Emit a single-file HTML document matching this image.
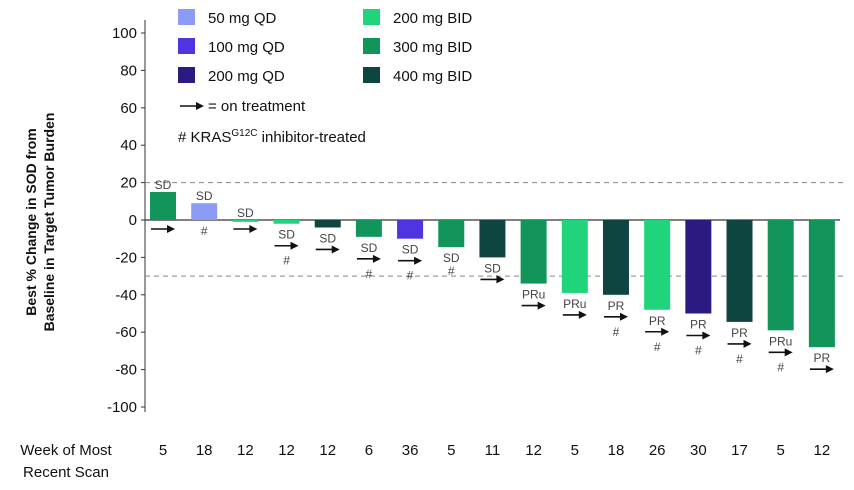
<!DOCTYPE html>
<html><head><meta charset="utf-8"><style>
body{margin:0;background:#fff;font-family:"Liberation Sans",sans-serif}
svg text{font-family:"Liberation Sans",sans-serif}
</style></head><body>
<svg width="854" height="485">
<g id="legend"></g>
<g id="axis"></g>
<g id="bars"></g>
<text transform="translate(36,222) rotate(-90)" text-anchor="middle" font-size="14" font-weight="bold" fill="#111"><tspan x="0" dy="0">Best % Change in SOD from</tspan><tspan x="0" dy="18">Baseline in Target Tumor Burden</tspan></text>
<text x="66" y="455" text-anchor="middle" font-size="15" fill="#111"><tspan x="66">Week of Most</tspan><tspan x="66" dy="22">Recent Scan</tspan></text>
</svg>
<script>
const weeks=[5,18,12,12,12,6,36,5,11,12,5,18,26,30,17,5,12];
const values=[15,9,-1,-2,-4,-9,-10,-14.5,-20,-34,-39,-40,-48,-50,-54.5,-59,-68];
const doses=[4,0,3,3,5,4,1,4,5,4,3,5,3,2,5,4,4];
const responses=["SD","SD","SD","SD","SD","SD","SD","SD","SD","PRu","PRu","PR","PR","PR","PR","PRu","PR"];
const onTreatment=[1,0,1,1,1,1,1,0,1,1,1,1,1,1,1,1,1];
const krasTreated=[0,1,0,1,0,1,1,1,0,0,0,1,1,1,1,1,0];
const doseNames=["50 mg QD","100 mg QD","200 mg QD","200 mg BID","300 mg BID","400 mg BID"];
const doseColors=["#8c9cf5","#4f35e0","#2c1a80","#1fd47a","#12955a","#0f4540"];
const yTicks=[100,80,60,40,20,0,-20,-40,-60,-80,-100];
const NS="http://www.w3.org/2000/svg";
function y(v){return 220-v*1.87;}
function x(i){return 163+i*41.18;}
function mk(t,a,p){const e=document.createElementNS(NS,t);for(const k in a)e.setAttribute(k,a[k]);(p||document.querySelector('svg')).appendChild(e);return e;}
const ax=document.getElementById('axis'),bg=document.getElementById('bars'),lg=document.getElementById('legend');
mk('line',{x1:145,x2:145,y1:20,y2:412,stroke:'#333'},ax);
yTicks.forEach(t=>{mk('line',{x1:141,x2:145,y1:y(t),y2:y(t),stroke:'#333'},ax);
const tx=mk('text',{x:137,y:y(t)+5,'text-anchor':'end','font-size':15,fill:'#111'},ax);tx.textContent=t;

});
[20,-30].forEach(v=>{const l=mk('line',{x1:145,x2:846,y1:y(v),y2:y(v),stroke:'#888','stroke-dasharray':'5,4'},ax);

});
function arrow(cx,yy,p){mk('line',{x1:cx-12,x2:cx+6,y1:yy,y2:yy,stroke:'#111','stroke-width':1.6},p);mk('path',{d:`M${cx+12} ${yy} L${cx+4} ${yy-4} L${cx+4} ${yy+4}Z`,fill:'#111'},p);}
values.forEach((v,i)=>{const cx=x(i);const top=Math.min(y(v),y(0)),h=Math.max(Math.abs(y(v)-y(0)),1);
const r=mk('rect',{x:cx-13,y:top,width:26,height:h,fill:doseColors[doses[i]]},bg);


let ly;const g=mk('g',{},bg);


let next;
if(v>=-1.5){ly=y(Math.max(v,0))-3;next=235;}else{ly=y(v)+15;next=ly+13;}
const t=mk('text',{x:cx,y:ly,'text-anchor':'middle','font-size':12,fill:'#444'},g);t.textContent=responses[i];
if(onTreatment[i]){arrow(cx,next-6,g);next+=13;}
if(krasTreated[i]){const h2=mk('text',{x:cx,y:next,'text-anchor':'middle','font-size':12,fill:'#444'},g);h2.textContent='#';}
const w=mk('text',{x:cx,y:455,'text-anchor':'middle','font-size':15,fill:'#111'});w.textContent=weeks[i];


});
mk('line',{x1:145,x2:840,y1:y(0),y2:y(0),stroke:'#333','stroke-width':1.3},ax);
doseNames.forEach((n,i)=>{const col=i<3?0:1,row=i%3;const lx=178+col*185,ly=17+row*29;
const s=mk('rect',{x:lx,y:ly-8,width:17,height:16,fill:doseColors[i]},lg);


const t=mk('text',{x:lx+30,y:ly+6,'font-size':15,fill:'#111'},lg);t.textContent=n;

});
arrow(192,106,lg);
const t1=mk('text',{x:208,y:111,'font-size':15,fill:'#111'},lg);t1.textContent='= on treatment';
const t2=mk('text',{x:178,y:142,'font-size':15,fill:'#111'},lg);t2.innerHTML='# KRAS<tspan font-size="10" dy="-6">G12C</tspan><tspan dy="6"> inhibitor-treated</tspan>';
</script>
</body></html>
